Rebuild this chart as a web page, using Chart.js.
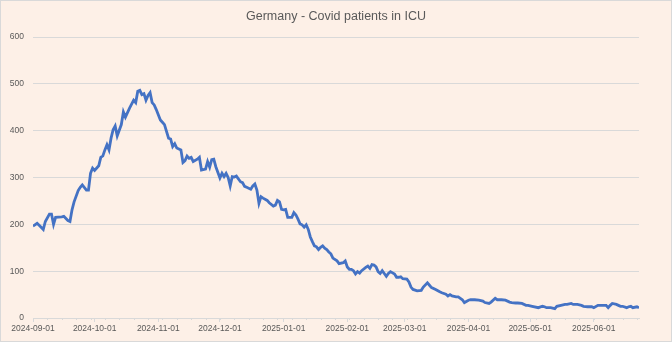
<!DOCTYPE html>
<html>
<head>
    <title>Germany - Covid patients in ICU</title>
    <script src="https://cdn.jsdelivr.net/npm/chart.js"></script>
    <style>
        html, body {
            margin: 0;
            padding: 0;
            background-color: #fdf0e7;
        }
        #chartBox {
            width: 672px;
            height: 342px;
        }
    </style>
</head>
<body>
    <div id="chartBox"><canvas id="icuChart"></canvas></div>
    <script>
        // values
        const dates = [
            '2024-09-01','2024-09-03','2024-09-04','2024-09-06','2024-09-07','2024-09-09','2024-09-10','2024-09-11','2024-09-12','2024-09-15',
            '2024-09-16','2024-09-18','2024-09-19','2024-09-20','2024-09-21','2024-09-23','2024-09-24','2024-09-25','2024-09-27','2024-09-28',
            '2024-09-29','2024-09-30','2024-10-01','2024-10-03','2024-10-04','2024-10-05','2024-10-06','2024-10-07','2024-10-08','2024-10-09',
            '2024-10-10','2024-10-11','2024-10-12','2024-10-14','2024-10-15','2024-10-16','2024-10-18','2024-10-20','2024-10-21','2024-10-22',
            '2024-10-23','2024-10-24','2024-10-25','2024-10-26','2024-10-27','2024-10-28','2024-10-29','2024-10-30','2024-10-31','2024-11-02',
            '2024-11-03','2024-11-04','2024-11-06','2024-11-07','2024-11-08','2024-11-09','2024-11-10','2024-11-12','2024-11-13','2024-11-14',
            '2024-11-15','2024-11-16','2024-11-17','2024-11-18','2024-11-20','2024-11-21','2024-11-22','2024-11-24','2024-11-25','2024-11-26',
            '2024-11-27','2024-11-28','2024-11-29','2024-12-01','2024-12-02','2024-12-03','2024-12-04','2024-12-05','2024-12-06','2024-12-07',
            '2024-12-08','2024-12-09','2024-12-11','2024-12-12','2024-12-13','2024-12-14','2024-12-16','2024-12-17','2024-12-18','2024-12-19',
            '2024-12-20','2024-12-21','2024-12-22','2024-12-24','2024-12-25','2024-12-27','2024-12-28','2024-12-29','2024-12-30','2024-12-31',
            '2025-01-01','2025-01-02','2025-01-03','2025-01-05','2025-01-06','2025-01-07','2025-01-08','2025-01-09','2025-01-10','2025-01-11',
            '2025-01-12','2025-01-13','2025-01-14','2025-01-15','2025-01-16','2025-01-17','2025-01-18','2025-01-19','2025-01-20','2025-01-21',
            '2025-01-22','2025-01-23','2025-01-24','2025-01-25','2025-01-27','2025-01-28','2025-01-30','2025-01-31','2025-02-01','2025-02-02',
            '2025-02-03','2025-02-04','2025-02-05','2025-02-06','2025-02-07','2025-02-08','2025-02-10','2025-02-11','2025-02-12','2025-02-13',
            '2025-02-14','2025-02-15','2025-02-16','2025-02-17','2025-02-18','2025-02-19','2025-02-20','2025-02-21','2025-02-22','2025-02-24',
            '2025-02-25','2025-02-26','2025-02-27','2025-02-28','2025-03-02','2025-03-03','2025-03-04','2025-03-05','2025-03-07','2025-03-09',
            '2025-03-10','2025-03-12','2025-03-13','2025-03-14','2025-03-16','2025-03-18','2025-03-19','2025-03-21','2025-03-22','2025-03-23',
            '2025-03-24','2025-03-26','2025-03-27','2025-03-29','2025-03-30','2025-04-01','2025-04-02','2025-04-04','2025-04-06','2025-04-08',
            '2025-04-09','2025-04-11','2025-04-12','2025-04-14','2025-04-15','2025-04-17','2025-04-19','2025-04-21','2025-04-22','2025-04-24',
            '2025-04-25','2025-04-27','2025-04-29','2025-04-30','2025-05-02','2025-05-05','2025-05-07','2025-05-08','2025-05-09','2025-05-11',
            '2025-05-13','2025-05-14','2025-05-16','2025-05-18','2025-05-19','2025-05-21','2025-05-22','2025-05-24','2025-05-26','2025-05-27',
            '2025-05-29','2025-05-31','2025-06-01','2025-06-03','2025-06-04','2025-06-06','2025-06-07','2025-06-08','2025-06-09','2025-06-10',
            '2025-06-12','2025-06-13','2025-06-14','2025-06-15','2025-06-17','2025-06-18','2025-06-19','2025-06-20','2025-06-22','2025-06-23'
        ];
        const icuPatients = [
            196, 202, 198, 189, 206, 222, 222, 200, 215, 216,
            217, 208, 206, 231, 248, 272, 279, 284, 273, 273,
            309, 320, 315, 325, 343, 346, 359, 370, 359, 384,
            402, 410, 389, 413, 440, 429, 448, 465, 460, 484,
            486, 477, 479, 465, 475, 481, 460, 455, 445, 423,
            418, 413, 384, 382, 366, 372, 363, 359, 332, 336,
            346, 341, 343, 334, 339, 343, 316, 318, 334, 322,
            338, 339, 323, 299, 309, 302, 309, 300, 282, 302,
            301, 303, 291, 289, 281, 279, 275, 282, 286, 273,
            245, 259, 256, 251, 246, 239, 241, 251, 248, 232,
            231, 232, 215, 215, 225, 220, 211, 201, 199, 194,
            199, 189, 173, 163, 154, 152, 146, 151, 154, 149,
            146, 141, 137, 128, 122, 116, 118, 122, 109, 104,
            104, 101, 94, 99, 96, 101, 108, 111, 106, 114,
            113, 109, 99, 95, 101, 95, 89, 95, 99, 94,
            87, 87, 88, 84, 83, 77, 66, 61, 58, 59,
            66, 75, 70, 65, 61, 56, 54, 51, 47, 50,
            47, 45, 45, 39, 33, 38, 39, 39, 38, 36,
            33, 31, 34, 42, 39, 39, 38, 34, 33, 32,
            32, 31, 27, 27, 25, 22, 25, 24, 22, 22,
            20, 25, 27, 29, 29, 31, 29, 29, 27, 25,
            24, 24, 22, 27, 27, 27, 27, 22, 27, 31,
            29, 27, 25, 25, 22, 24, 25, 22, 24, 22
        ];
        const monthTicks = ['2024-09-01','2024-10-01','2024-11-01','2024-12-01','2025-01-01',
                            '2025-02-01','2025-03-01','2025-04-01','2025-05-01','2025-06-01'];
        const yTicks = [0, 100, 200, 300, 400, 500, 600];
        const minorStepDays = 7;

        const startDate = dates[0];
        function dayIndex(d) {
            const a = Date.parse(startDate + 'T00:00:00Z');
            const b = Date.parse(d + 'T00:00:00Z');
            return Math.round((b - a) / 86400000);
        }

        const points = dates.map((d, i) => ({ x: dayIndex(d), y: icuPatients[i] }));
        const tickDays = monthTicks.map(dayIndex);
        const lastDay = dayIndex(dates[dates.length - 1]);

        const gridColor = '#d9d9d9';
        const textColor = '#595959';

        // background, outer frame and the short minor ticks on the date axis
        const frame = {
            id: 'frame',
            beforeDraw(chart) {
                const c = chart.ctx;
                c.save();
                c.fillStyle = '#fdf0e7';
                c.fillRect(0, 0, chart.width, chart.height);
                c.restore();
            },
            afterDraw(chart) {
                const c = chart.ctx;
                const xs = chart.scales.x;
                c.save();
                c.strokeStyle = gridColor;
                c.lineWidth = 1;
                c.strokeRect(0.5, 0.5, chart.width - 1, chart.height - 1);
                c.beginPath();
                for (let d = 0; d <= lastDay; d += minorStepDays) {
                    const px = Math.round(xs.getPixelForValue(d)) + 0.5;
                    c.moveTo(px, xs.top);
                    c.lineTo(px, xs.top + 2);
                }
                c.stroke();
                c.restore();
            }
        };

        new Chart(document.getElementById('icuChart'), {
            type: 'line',
            data: {
                datasets: [{
                    label: 'ICU patients',
                    data: points,
                    borderColor: '#4472c4',
                    borderWidth: 2.8,
                    pointRadius: 0,
                    tension: 0,
                    fill: false
                }]
            },
            options: {
                responsive: true,
                maintainAspectRatio: false,
                animation: false,
                layout: { padding: 0 },
                plugins: {
                    legend: { display: false },
                    tooltip: { enabled: false },
                    title: {
                        display: true,
                        text: 'Germany - Covid patients in ICU',
                        color: textColor,
                        font: { family: 'Liberation Sans', size: 12.5, weight: 'normal' },
                        padding: { top: 9, bottom: 13 }
                    }
                },
                scales: {
                    x: {
                        type: 'linear',
                        min: 0,
                        max: lastDay,
                        afterFit(scale) { scale.height = 24; },
                        afterBuildTicks(scale) {
                            scale.ticks = tickDays.map(v => ({ value: v }));
                        },
                        grid: {
                            drawOnChartArea: false,
                            drawTicks: true,
                            tickLength: 4,
                            color: gridColor
                        },
                        border: { display: true, color: gridColor },
                        ticks: {
                            autoSkip: false,
                            maxRotation: 0,
                            padding: 2,
                            color: textColor,
                            font: { family: 'Liberation Sans', size: 8.5 },
                            callback(value) {
                                const i = tickDays.indexOf(value);
                                return i >= 0 ? monthTicks[i] : '';
                            }
                        }
                    },
                    y: {
                        min: yTicks[0],
                        max: yTicks[yTicks.length - 1],
                        afterFit(scale) { scale.width = 33; },
                        ticks: {
                            stepSize: 100,
                            padding: 9,
                            color: textColor,
                            font: { family: 'Liberation Sans', size: 8.5 }
                        },
                        grid: { color: gridColor, drawTicks: false },
                        border: { display: false }
                    },
                    // empty right axis, only keeps the same margin as on the left
                    yRight: {
                        position: 'right',
                        min: yTicks[0],
                        max: yTicks[yTicks.length - 1],
                        afterFit(scale) { scale.width = 33; },
                        ticks: { display: false },
                        grid: { drawOnChartArea: false, drawTicks: false },
                        border: { display: false }
                    }
                }
            },
            plugins: [frame]
        });
    </script>
</body>
</html>
